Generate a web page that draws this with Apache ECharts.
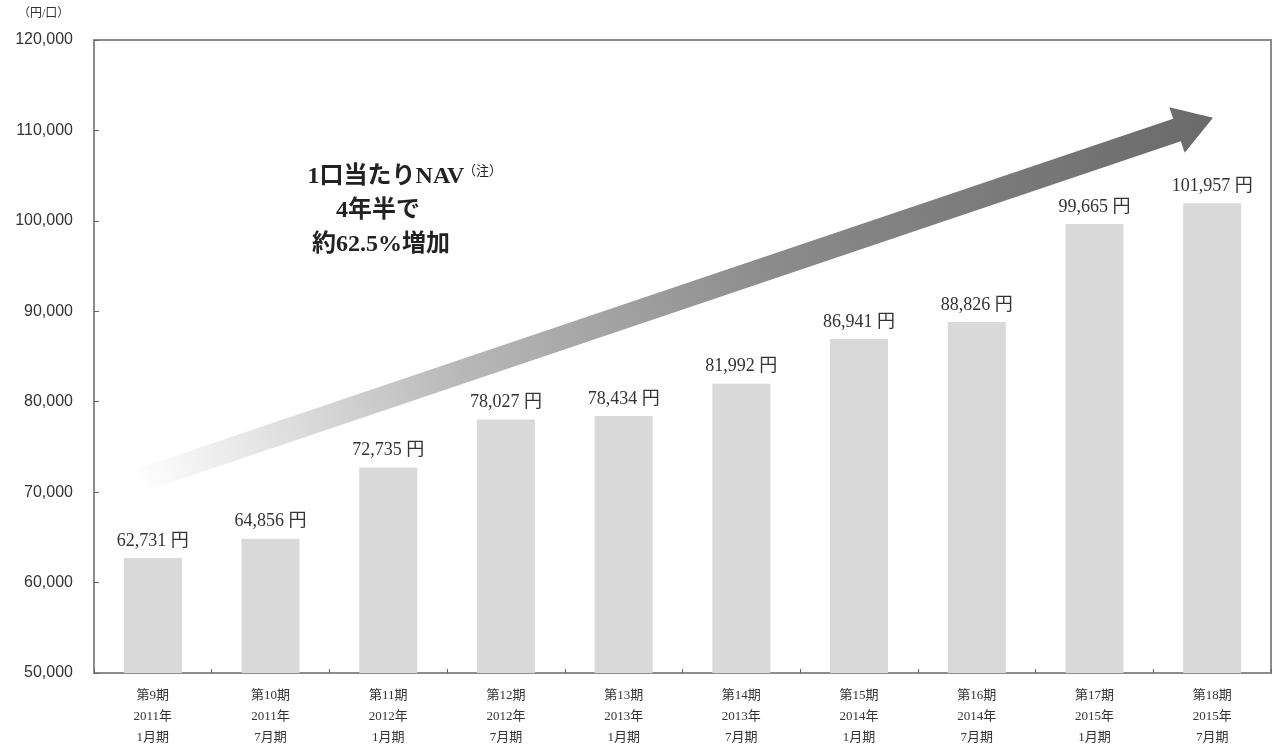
<!DOCTYPE html>
<html>
<head>
<meta charset="utf-8">
<script src="https://cdn.jsdelivr.net/npm/echarts@6/dist/echarts.min.js"></script>
<style>
  html, body { margin: 0; padding: 0; background: #fff; }
  #main { width: 1273px; height: 749px; }
</style>
</head>
<body>
<div id="main"></div>
<script>
var periods = ['第9期', '第10期', '第11期', '第12期', '第13期', '第14期', '第15期', '第16期', '第17期', '第18期'];
var years = ['2011年', '2011年', '2012年', '2012年', '2013年', '2013年', '2014年', '2014年', '2015年', '2015年'];
var months = ['1月期', '7月期', '1月期', '7月期', '1月期', '7月期', '1月期', '7月期', '1月期', '7月期'];
var navValues = [62731, 64856, 72735, 78027, 78434, 81992, 86941, 88826, 99665, 101957];
var yTicks = { min: 50000, max: 120000, interval: 10000 };

var categories = [];
for (var i = 0; i < periods.length; i++) {
  categories.push(periods[i] + '\n' + years[i] + '\n' + months[i]);
}

function withComma(v) {
  return String(v).replace(/\B(?=(\d{3})+(?!\d))/g, ',');
}

var chartDom = document.getElementById('main');
var myChart = echarts.init(chartDom);

// arrow: centre line from start to base of head, then the tip
function arrowPoints(sx, sy, hx, hy, half, headHalf, headLen) {
  var dx = hx - sx, dy = hy - sy;
  var len = Math.sqrt(dx * dx + dy * dy);
  var ux = dx / len, uy = dy / len;
  var nx = -uy, ny = ux;
  return [
    [sx - nx * half, sy - ny * half],
    [hx - nx * half, hy - ny * half],
    [hx - nx * headHalf, hy - ny * headHalf],
    [hx + ux * headLen, hy + uy * headLen],
    [hx + nx * headHalf, hy + ny * headHalf],
    [hx + nx * half, hy + ny * half],
    [sx + nx * half, sy + ny * half]
  ];
}

var arrow = arrowPoints(138, 481, 1177, 130, 12, 24, 38);

var serif = '"Liberation Serif", "DejaVu Serif", "Noto Sans CJK JP", serif';

var option = {
  animation: false,
  backgroundColor: '#fff',
  grid: {
    left: 94,
    right: 2,
    top: 40,
    bottom: 76,
    show: true,
    borderColor: '#8c8c8c',
    borderWidth: 2
  },
  xAxis: {
    type: 'category',
    data: categories,
    axisLine: { lineStyle: { color: '#8c8c8c', width: 2 } },
    axisTick: { show: true, inside: true, length: 4, lineStyle: { color: '#666' } },
    axisLabel: {
      color: '#333',
      fontFamily: serif,
      fontSize: 13,
      lineHeight: 21,
      margin: 12,
      interval: 0
    }
  },
  yAxis: {
    type: 'value',
    min: yTicks.min,
    max: yTicks.max,
    interval: yTicks.interval,
    splitLine: { show: false },
    axisLine: { show: true, lineStyle: { color: '#8c8c8c', width: 2 } },
    axisTick: { show: true, inside: true, length: 5, lineStyle: { color: '#666' } },
    axisLabel: {
      color: '#333',
      fontFamily: '"Liberation Sans", Arial, sans-serif',
      fontSize: 16,
      margin: 21,
      formatter: function (v) { return withComma(v); }
    }
  },
  series: [
    {
      type: 'bar',
      data: navValues,
      barWidth: 58,
      itemStyle: { color: '#d9d9d9' },
      label: {
        show: true,
        position: 'top',
        distance: 8,
        color: '#333',
        fontFamily: serif,
        fontSize: 18,
        formatter: function (p) { return withComma(p.value) + ' 円'; }
      },
      z: 3
    }
  ],
  graphic: [
    {
      type: 'polygon',
      z: 1,
      shape: { points: arrow },
      style: {
        fill: new echarts.graphic.LinearGradient(138, 481, 1213, 118, [
          { offset: 0, color: 'rgba(255,255,255,1)' },
          { offset: 0.3, color: '#b8b8b8' },
          { offset: 0.6, color: '#8a8a8a' },
          { offset: 1, color: '#6a6a6a' }
        ], true)
      }
    },
    {
      type: 'text', left: 18, top: 8, z: 10,
      style: { text: '（円/口）', fontFamily: serif, fontSize: 12, fill: '#333' }
    },
    {
      type: 'text', x: 386, y: 177, z: 10,
      style: { text: '1口当たりNAV', fontFamily: serif, fontSize: 24, fontWeight: 'bold', fill: '#222', align: 'center', verticalAlign: 'middle' }
    },
    {
      type: 'text', x: 463, y: 172, z: 10,
      style: { text: '（注）', fontFamily: serif, fontSize: 13, fill: '#222', align: 'left', verticalAlign: 'middle' }
    },
    {
      type: 'text', x: 378, y: 211, z: 10,
      style: { text: '4年半で', fontFamily: serif, fontSize: 24, fontWeight: 'bold', fill: '#222', align: 'center', verticalAlign: 'middle' }
    },
    {
      type: 'text', x: 381, y: 245, z: 10,
      style: { text: '約62.5%増加', fontFamily: serif, fontSize: 24, fontWeight: 'bold', fill: '#222', align: 'center', verticalAlign: 'middle' }
    }
  ]
};

option && myChart.setOption(option);
</script>
</body>
</html>
